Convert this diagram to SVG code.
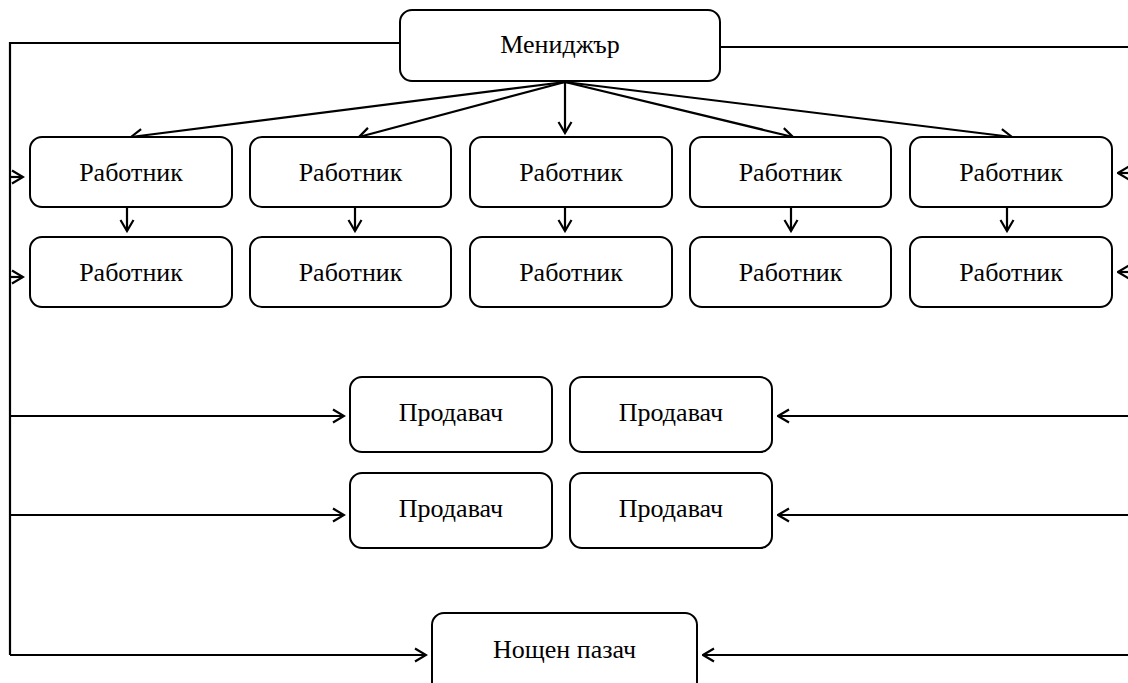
<svg xmlns="http://www.w3.org/2000/svg" width="1128" height="683" viewBox="0 0 1128 683">
<style>
.box{fill:#fff;stroke:#000;stroke-width:2}
.lbl{font-family:"Liberation Serif","Times New Roman",serif;font-size:26px;fill:#000;text-anchor:middle}
.ln{fill:none;stroke:#000;stroke-width:2.2}
</style>
<defs>
<marker id="ah" viewBox="0 0 14 16" refX="12.5" refY="8" markerWidth="14" markerHeight="16" markerUnits="userSpaceOnUse" orient="auto">
<path d="M1.5,1.5 L12.5,8 L1.5,14.5" fill="none" stroke="#000" stroke-width="2.2"/>
</marker>
</defs>
<rect width="1128" height="683" fill="#fff"/>
<g id="connectors">
<path class="ln" d="M400,43 H10 V655"/>
<path class="ln" d="M720,47 H1128"/>
<path class="ln" d="M565,82 L131,137" marker-end="url(#ah)"/>
<path class="ln" d="M565,82 L359,137" marker-end="url(#ah)"/>
<path class="ln" d="M565,82 L565,133" marker-end="url(#ah)"/>
<path class="ln" d="M565,82 L793,137" marker-end="url(#ah)"/>
<path class="ln" d="M565,82 L1012,137" marker-end="url(#ah)"/>
<path class="ln" d="M127,207 V231" marker-end="url(#ah)"/>
<path class="ln" d="M355,207 V231" marker-end="url(#ah)"/>
<path class="ln" d="M565,207 V231" marker-end="url(#ah)"/>
<path class="ln" d="M791,207 V231" marker-end="url(#ah)"/>
<path class="ln" d="M1007,207 V231" marker-end="url(#ah)"/>
<path class="ln" d="M10,177 H23" marker-end="url(#ah)"/>
<path class="ln" d="M10,277 H23" marker-end="url(#ah)"/>
<path class="ln" d="M1128,173 H1118" marker-end="url(#ah)"/>
<path class="ln" d="M1128,272 H1118" marker-end="url(#ah)"/>
<path class="ln" d="M10,416 H344" marker-end="url(#ah)"/>
<path class="ln" d="M10,515 H344" marker-end="url(#ah)"/>
<path class="ln" d="M10,655 H426" marker-end="url(#ah)"/>
<path class="ln" d="M1128,416 H778" marker-end="url(#ah)"/>
<path class="ln" d="M1128,515 H778" marker-end="url(#ah)"/>
<path class="ln" d="M1128,655 H703" marker-end="url(#ah)"/>
</g>
<g id="manager"><rect class="box" x="400" y="10" width="320" height="71" rx="12"/><text class="lbl" x="560" y="53">Мениджър</text></g>
<g id="w1a"><rect class="box" x="30" y="137" width="202" height="70" rx="12"/><text class="lbl" x="131" y="181">Работник</text></g>
<g id="w2a"><rect class="box" x="250" y="137" width="201" height="70" rx="12"/><text class="lbl" x="350.5" y="181">Работник</text></g>
<g id="w3a"><rect class="box" x="470" y="137" width="202" height="70" rx="12"/><text class="lbl" x="571" y="181">Работник</text></g>
<g id="w4a"><rect class="box" x="690" y="137" width="201" height="70" rx="12"/><text class="lbl" x="790.5" y="181">Работник</text></g>
<g id="w5a"><rect class="box" x="910" y="137" width="202" height="70" rx="12"/><text class="lbl" x="1011" y="181">Работник</text></g>
<g id="w1b"><rect class="box" x="30" y="237" width="202" height="70" rx="12"/><text class="lbl" x="131" y="281">Работник</text></g>
<g id="w2b"><rect class="box" x="250" y="237" width="201" height="70" rx="12"/><text class="lbl" x="350.5" y="281">Работник</text></g>
<g id="w3b"><rect class="box" x="470" y="237" width="202" height="70" rx="12"/><text class="lbl" x="571" y="281">Работник</text></g>
<g id="w4b"><rect class="box" x="690" y="237" width="201" height="70" rx="12"/><text class="lbl" x="790.5" y="281">Работник</text></g>
<g id="w5b"><rect class="box" x="910" y="237" width="202" height="70" rx="12"/><text class="lbl" x="1011" y="281">Работник</text></g>
<g id="s1"><rect class="box" x="350" y="377" width="202" height="75" rx="12"/><text class="lbl" x="451" y="421">Продавач</text></g>
<g id="s2"><rect class="box" x="570" y="377" width="202" height="75" rx="12"/><text class="lbl" x="671" y="421">Продавач</text></g>
<g id="s3"><rect class="box" x="350" y="473" width="202" height="75" rx="12"/><text class="lbl" x="451" y="517">Продавач</text></g>
<g id="s4"><rect class="box" x="570" y="473" width="202" height="75" rx="12"/><text class="lbl" x="671" y="517">Продавач</text></g>
<g id="guard"><rect class="box" x="432" y="613" width="265" height="90" rx="12"/><text class="lbl" x="564.5" y="658">Нощен пазач</text></g>
</svg>
